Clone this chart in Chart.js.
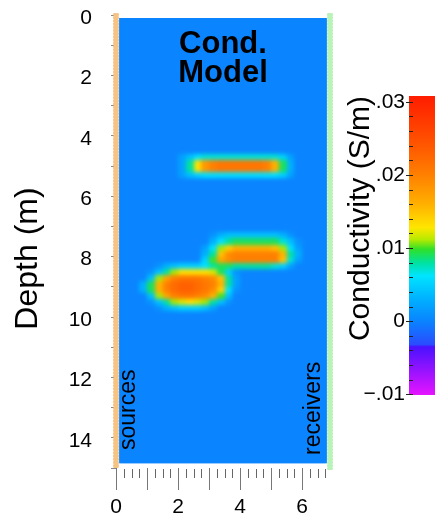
<!DOCTYPE html>
<html>
<head>
<meta charset="utf-8">
<title>Cond. Model</title>
<script src="https://cdn.jsdelivr.net/npm/chart.js@4.4.1/dist/chart.umd.min.js"></script>
<style>
  html, body { margin: 0; padding: 0; background: #fff; }
  #wrap { position: relative; width: 435px; height: 521px; overflow: hidden; }
  #model { position: absolute; left: 0; top: 0; }
  #cbar { position: absolute; left: 335px; top: 0; }
</style>
</head>
<body>
<div id="wrap">
  <canvas id="model" width="340" height="521"></canvas>
  <canvas id="cbar" width="100" height="521"></canvas>
</div>
<script>
// model grid: 0.25 m columns starting at x = 0, 0.2 m rows; values in mS/m
const cellDx = 0.25;
const cellDz = 0.2;
const fieldX = [0.1, 6.8];
const fieldDepth = [0.1, 14.85];
const cellDepths = [4.6, 4.8, 5.0, 5.2, 7.2, 7.4, 7.6, 7.8, 8.0, 8.2, 8.4, 8.6, 8.8, 9.0, 9.2, 9.4, 9.6];
const condRows = [
  [0,0,0,0,0,0,0,0,2,4,6,7,7,7,7,7,7,7,7,7,7,5,2,0,0,0,0,0],
  [0,0,0,0,0,0,0,0,2,8,13,18,20,21,21,21,21,21,21,20,16,9,3,0,0,0,0,0],
  [0,0,0,0,0,0,0,0,2,8,13,18,20,21,21,21,21,21,21,20,16,9,3,0,0,0,0,0],
  [0,0,0,0,0,0,0,0,2,4,5,6,6,6,6,6,6,6,6,6,6,5,2,0,0,0,0,0],
  [0,0,0,0,0,0,0,0,0,0,0,0,1,3,4,4,4,4,4,4,4,3,1,0,0,0,0,0],
  [0,0,0,0,0,0,0,0,0,0,0,0,3,6,8,9,9,9,9,9,9,7,4,1,0,0,0,0],
  [0,0,0,0,0,0,0,0,0,0,0,2,6,11,14,16,16,16,16,16,15,11,6,2,0,0,0,0],
  [0,0,0,0,0,0,0,0,0,0,0,3,8,15,19,20,20,20,20,20,20,16,8,3,0,0,0,0],
  [0,0,0,0,0,0,0,0,0,0,0,5,10,17,19,20,20,20,20,20,20,15,7,2,0,0,0,0],
  [0,0,0,0,0,1,3,4,5,5,5,6,8,9,9,8,8,8,8,8,7,5,2,0,0,0,0,0],
  [0,0,0,0,1,4,8,11,13,13,13,13,12,9,5,1,0,0,0,0,0,0,0,0,0,0,0,0],
  [0,0,0,0,4,11,17,20,21,21,21,20,19,15,8,2,0,0,0,0,0,0,0,0,0,0,0,0],
  [0,0,0,3,9,16,20,22,23,23,22,21,20,16,8,2,0,0,0,0,0,0,0,0,0,0,0,0],
  [0,0,0,3,9,16,20,22,23,23,22,21,19,14,6,1,0,0,0,0,0,0,0,0,0,0,0,0],
  [0,0,0,0,4,11,17,20,21,21,20,19,16,10,4,0,0,0,0,0,0,0,0,0,0,0,0,0],
  [0,0,0,0,1,4,8,11,12,13,12,11,8,4,1,0,0,0,0,0,0,0,0,0,0,0,0,0],
  [0,0,0,0,0,1,3,4,5,5,5,4,2,0,0,0,0,0,0,0,0,0,0,0,0,0,0,0]
];

// borehole lines
const sourceX = 0;
const sourceDepths = [-0.05, 15];
const receiverX = 6.9;
const receiverDepths = [-0.05, 15.05];

// axes
const xTicks = [0, 1, 2, 3, 4, 5, 6];
const xLabelValues = [0, 2, 4, 6];
const depthTicks = [0, 1, 2, 3, 4, 5, 6, 7, 8, 9, 10, 11, 12, 13, 14, 15];
const depthLabelValues = [0, 2, 4, 6, 8, 10, 12, 14];

// colour bar (S/m)
const cbarRange = [-0.0101, 0.0308];
const cbarLabelValues = [-0.01, 0, 0.01, 0.02, 0.03];
const cbarLabels = ['\u2212.01', '0', '.01', '.02', '.03'];

const cmapStops = [
  [-0.0101, '#e614ff'],
  [-0.0035, '#4a12ff'],
  [-0.0032, '#2a4cff'],
  [0.0,     '#0a84ff'],
  [0.003,   '#00b0ff'],
  [0.0062,  '#00e4ff'],
  [0.008,   '#00e2a0'],
  [0.0098,  '#2ee02a'],
  [0.0112,  '#b8ea00'],
  [0.0128,  '#ffe600'],
  [0.016,   '#ffb000'],
  [0.02,    '#ff8000'],
  [0.0245,  '#ff5200'],
  [0.0308,  '#ff1c00']
];

const FONT = "'Liberation Sans', Arial, Helvetica, sans-serif";
Chart.defaults.font.family = FONT;
Chart.defaults.color = '#000';

function hexRgb(h) {
  return [1, 3, 5].map(i => parseInt(h.slice(i, i + 2), 16));
}

function condColor(v) {
  if (v <= cmapStops[0][0]) return cmapStops[0][1];
  for (let k = 1; k < cmapStops.length; k++) {
    const [v1, c1] = cmapStops[k];
    if (v <= v1) {
      const [v0, c0] = cmapStops[k - 1];
      const t = (v - v0) / (v1 - v0);
      const a = hexRgb(c0), b = hexRgb(c1);
      const rgb = a.map((p, i) => Math.round(p + (b[i] - p) * t));
      return 'rgb(' + rgb.join(',') + ')';
    }
  }
  return cmapStops[cmapStops.length - 1][1];
}

// keep tick labels from pushing the plot area inwards
function noEdgePadding(s) {
  s.paddingTop = 0;
  s.paddingBottom = 0;
  s.paddingLeft = 0;
  s.paddingRight = 0;
}

const heatmap = {
  id: 'heatmap',
  beforeDatasetsDraw(chart) {
    const { ctx, scales: { x, y } } = chart;
    const left = x.getPixelForValue(fieldX[0]);
    const right = x.getPixelForValue(fieldX[1]);
    const top = y.getPixelForValue(fieldDepth[0]);
    const bottom = y.getPixelForValue(fieldDepth[1]);

    const off = document.createElement('canvas');
    off.width = chart.width;
    off.height = chart.height;
    const o = off.getContext('2d');
    o.fillStyle = condColor(0);
    o.fillRect(left, top, right - left, bottom - top);
    cellDepths.forEach((d, r) => {
      const y0 = Math.round(y.getPixelForValue(d));
      const y1 = Math.round(y.getPixelForValue(d + cellDz));
      condRows[r].forEach((v, i) => {
        if (!v) return;
        const x0 = Math.round(x.getPixelForValue(i * cellDx));
        const x1 = Math.round(x.getPixelForValue((i + 1) * cellDx));
        o.fillStyle = condColor(v / 1000);
        o.fillRect(x0, y0, x1 - x0, y1 - y0);
      });
    });

    ctx.save();
    ctx.beginPath();
    ctx.rect(left, top, right - left, bottom - top);
    ctx.clip();
    ctx.fillStyle = condColor(0);
    ctx.fillRect(left, top, right - left, bottom - top);
    ctx.filter = 'blur(2px)';
    ctx.drawImage(off, 0, 0);
    ctx.restore();
  }
};

const minorTicks = {
  id: 'minorTicks',
  afterDraw(chart) {
    const { ctx, chartArea, scales: { x } } = chart;
    ctx.save();
    ctx.strokeStyle = '#666';
    ctx.lineWidth = 1;
    for (let v = 0.25; v < 6.9; v += 0.25) {
      if (Math.abs(v - Math.round(v)) < 1e-6) continue;
      const px = Math.round(x.getPixelForValue(v)) + 0.5;
      ctx.beginPath();
      ctx.moveTo(px, chartArea.bottom + 1);
      ctx.lineTo(px, chartArea.bottom + 10);
      ctx.stroke();
    }
    ctx.restore();
  }
};

const modelText = {
  id: 'modelText',
  afterDatasetsDraw(chart) {
    const { ctx, chartArea: a } = chart;
    const cx = (a.left + a.right) / 2;
    ctx.save();
    ctx.fillStyle = '#000';
    ctx.textAlign = 'center';
    ctx.textBaseline = 'alphabetic';
    ctx.font = 'bold 31px ' + FONT;
    ctx.fillText('Cond.', cx, a.top + 38);
    ctx.fillText('Model', cx, a.top + 67);

    ctx.font = '23px ' + FONT;
    ctx.textAlign = 'left';
    ctx.save();
    ctx.translate(a.left + 19, a.bottom - 18);
    ctx.rotate(-Math.PI / 2);
    ctx.fillText('sources', 0, 0);
    ctx.restore();
    ctx.save();
    ctx.translate(a.right - 10, a.bottom - 13);
    ctx.rotate(-Math.PI / 2);
    ctx.fillText('receivers', 0, 0);
    ctx.restore();
    ctx.restore();
  },
  afterDraw(chart) {
    const { ctx } = chart;
    ctx.save();
    ctx.fillStyle = '#000';
    ctx.font = '32px ' + FONT;
    ctx.textAlign = 'center';
    ctx.textBaseline = 'alphabetic';
    ctx.translate(37, 258.5);
    ctx.rotate(-Math.PI / 2);
    ctx.fillText('Depth (m)', 0, 0);
    ctx.restore();
  }
};

function boreLine(xv, depths, color, width, dash) {
  return {
    data: depths.map(d => ({ x: xv, y: d })),
    showLine: true,
    borderColor: color,
    borderWidth: width,
    borderDash: dash,
    pointRadius: 0,
    clip: false
  };
}

new Chart(document.getElementById('model'), {
  type: 'scatter',
  data: {
    datasets: [
      boreLine(sourceX, sourceDepths, '#f6c383', 5, []),
      boreLine(sourceX, sourceDepths, '#ec9a36', 5, [2, 1.2]),
      boreLine(receiverX, receiverDepths, '#b8f3b8', 5, []),
      boreLine(receiverX, receiverDepths, '#7ee47e', 5, [2, 1.2])
    ]
  },
  options: {
    responsive: false,
    animation: false,
    events: [],
    layout: { padding: { top: 15, right: 10, left: 0, bottom: 0 } },
    plugins: { legend: { display: false }, tooltip: { enabled: false } },
    scales: {
      x: {
        type: 'linear',
        position: 'bottom',
        min: 0,
        max: 6.9,
        afterBuildTicks: s => { s.ticks = xTicks.map(v => ({ value: v })); },
        afterFit: s => { s.height = 53; noEdgePadding(s); },
        border: { display: false },
        grid: { drawOnChartArea: false, tickLength: 22, color: '#777', tickColor: '#777' },
        ticks: {
          autoSkip: false, maxRotation: 0, padding: 5,
          font: { size: 21 }, color: '#000',
          callback: v => (xLabelValues.includes(v) ? String(v) : '')
        }
      },
      y: {
        type: 'linear',
        reverse: true,
        min: 0,
        max: 15,
        afterBuildTicks: s => { s.ticks = depthTicks.map(v => ({ value: v })); },
        afterFit: s => { s.width = 116; noEdgePadding(s); },
        border: { display: false },
        grid: { drawOnChartArea: false, tickLength: 5, color: '#888', tickColor: '#888' },
        ticks: {
          autoSkip: false, padding: 19, labelOffset: 3,
          font: { size: 21 }, color: '#000',
          callback: v => (depthLabelValues.includes(v) ? String(v) : '')
        }
      }
    }
  },
  plugins: [heatmap, modelText, minorTicks]
});

// colour bar
const cbarTickValues = Array.from({ length: 21 }, (_, k) => -0.01 + k * 0.002);

const cbarMarks = {
  id: 'cbarMarks',
  afterDatasetsDraw(chart) {
    const { ctx, chartArea: a, scales: { y } } = chart;
    ctx.save();
    ctx.strokeStyle = '#222';
    ctx.lineWidth = 1;
    y.ticks.forEach(t => {
      const py = Math.round(y.getPixelForValue(t.value)) + 0.5;
      const major = cbarLabelValues.some(m => Math.abs(m - t.value) < 1e-9);
      ctx.beginPath();
      ctx.moveTo(a.left - (major ? 3 : 0), py);
      ctx.lineTo(a.left + 4, py);
      ctx.stroke();
    });
    ctx.restore();
  }
};

new Chart(document.getElementById('cbar'), {
  type: 'bar',
  data: {
    labels: ['σ'],
    datasets: [{
      data: [[cbarRange[0], cbarRange[1]]],
      barPercentage: 1,
      categoryPercentage: 1,
      borderWidth: 0,
      backgroundColor(c) {
        const chart = c.chart;
        if (!chart.chartArea) return condColor(0);
        const ys = chart.scales.y;
        const g = chart.ctx.createLinearGradient(0, ys.getPixelForValue(cbarRange[0]), 0, ys.getPixelForValue(cbarRange[1]));
        const span = cbarRange[1] - cbarRange[0];
        cmapStops.forEach(([v, col]) => g.addColorStop(Math.min(1, Math.max(0, (v - cbarRange[0]) / span)), col));
        return g;
      }
    }]
  },
  options: {
    responsive: false,
    animation: false,
    events: [],
    layout: { padding: { top: 96, bottom: 126, left: 0, right: 0 } },
    plugins: { legend: { display: false }, tooltip: { enabled: false } },
    scales: {
      x: { display: false },
      y: {
        min: cbarRange[0],
        max: cbarRange[1],
        afterBuildTicks: s => { s.ticks = cbarTickValues.map(v => ({ value: v })); },
        afterFit: s => { s.width = 74; noEdgePadding(s); },
        border: { display: false },
        grid: { display: false, drawTicks: false },
        ticks: {
          autoSkip: false, padding: 4,
          font: { size: 21 }, color: '#000',
          callback: v => {
            const k = cbarLabelValues.findIndex(m => Math.abs(m - v) < 1e-9);
            return k < 0 ? '' : cbarLabels[k];
          }
        },
        title: {
          display: true,
          text: 'Conductivity (S/m)',
          align: 'end',
          font: { size: 30 },
          color: '#000',
          padding: { top: 8, bottom: 0 }
        }
      }
    }
  },
  plugins: [cbarMarks]
});
</script>
</body>
</html>
